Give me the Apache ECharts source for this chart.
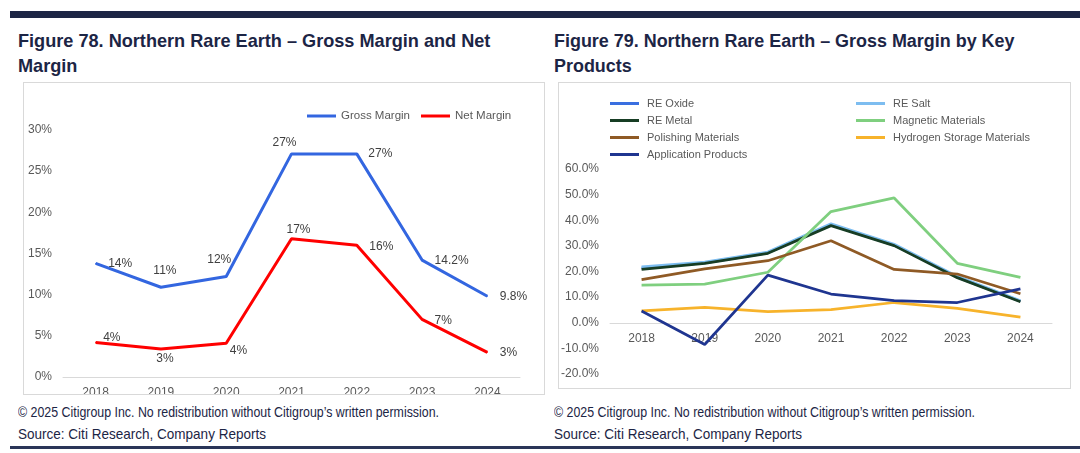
<!DOCTYPE html>
<html><head><meta charset="utf-8">
<script src="https://cdn.jsdelivr.net/npm/echarts@6/dist/echarts.min.js"></script>
<style>
html,body{margin:0;padding:0;background:#fff;width:1080px;height:453px;overflow:hidden;position:relative;font-family:'Liberation Sans',Arial,sans-serif;}
.bar{position:absolute;left:10px;width:1070px;background:#1c2545;}
.title{position:absolute;top:29px;font-weight:bold;font-size:18px;line-height:24.5px;color:#1c2545;white-space:nowrap}
.box{position:absolute;border:1px solid #d9d9d9;box-sizing:border-box;}
.chart{position:absolute;}
.foot{position:absolute;color:#1c2545;white-space:nowrap;line-height:16px;transform-origin:0 50%}
</style></head>
<body>
<div class="bar" style="top:11px;height:7px"></div>
<div class="title" style="left:18px"><span class="fit" data-w="473">Figure 78. Northern Rare Earth – Gross Margin and Net</span><br>Margin</div>
<div class="title" style="left:554px"><span class="fit" data-w="461">Figure 79. Northern Rare Earth – Gross Margin by Key</span><br>Products</div>
<div class="box" style="left:23px;top:82px;width:522px;height:313px"></div>
<div class="box" style="left:558px;top:82px;width:513px;height:307px"></div>
<div id="c1" class="chart" style="left:24px;top:83px;width:520px;height:311px"></div>
<div id="c2" class="chart" style="left:559px;top:83px;width:511px;height:305px"></div>
<div class="foot fitx" data-w="421" style="left:18px;top:404px;font-size:14px">© 2025 Citigroup Inc. No redistribution without Citigroup’s written permission.</div>
<div class="foot fitx" data-w="248" style="left:18px;top:426px;font-size:15px">Source: Citi Research, Company Reports</div>
<div class="foot fitx" data-w="421" style="left:554px;top:404px;font-size:14px">© 2025 Citigroup Inc. No redistribution without Citigroup’s written permission.</div>
<div class="foot fitx" data-w="248" style="left:554px;top:426px;font-size:15px">Source: Citi Research, Company Reports</div>
<div class="bar" style="top:446px;height:3px;background:#2a3558"></div>
<script>
// ---- Figure 78 data ----
const years = ['2018','2019','2020','2021','2022','2023','2024'];
const grossMargin = [13.8, 10.9, 12.2, 27.1, 27.1, 14.2, 9.8];
const netMargin = [4.2, 3.4, 4.1, 16.8, 16.0, 7.0, 3.0];
const grossLabels = ['14%','11%','12%','27%','27%','14.2%','9.8%'];
const netLabels = ['4%','3%','4%','17%','16%','7%','3%'];
const leftAxis = {min: 0, max: 30, interval: 5};

// ---- Figure 79 data ----
const reOxide = [21.3, 23.4, 27.3, 38.2, 30.3, 17.8, 8.4];
const reSalt = [21.8, 23.7, 27.6, 38.6, 30.6, 18.1, 8.6];
const reMetal = [20.8, 23.2, 27.1, 37.9, 30.1, 17.6, 8.2];
const magnetic = [14.7, 15.1, 19.7, 43.4, 48.7, 23.2, 17.7];
const polishing = [16.8, 21.0, 24.2, 32.0, 20.8, 19.0, 11.3];
const hydrogen = [4.6, 6.0, 4.3, 5.1, 7.9, 5.6, 2.2];
const application = [4.6, -8.5, 18.6, 11.2, 8.6, 7.9, 13.2];
const rightAxis = {min: -20, max: 60, interval: 10};

// fit text widths (layout only)
document.querySelectorAll('.fitx').forEach(el=>{
  const w = el.getBoundingClientRect().width;
  el.style.transform = 'scaleX(' + (+el.dataset.w / w) + ')';
});
document.querySelectorAll('.fit').forEach(el=>{
  const w = el.getBoundingClientRect().width;
  const fs = parseFloat(getComputedStyle(el).fontSize);
  el.parentNode.style.fontSize = (fs * (+el.dataset.w) / w) + 'px';
});

// label placement (style only)
const grossPlace = [
  {position:'right', distance:12, offset:[0,0]},
  {position:'top', distance:5, offset:[4,-5]},
  {position:'top', distance:5, offset:[-7,-5]},
  {position:'top', distance:5, offset:[-7,0]},
  {position:'right', distance:11, offset:[0,0]},
  {position:'right', distance:12, offset:[0,1]},
  {position:'right', distance:12, offset:[0,0]}
];
const netPlace = [
  {position:'right', distance:7, offset:[0,-5]},
  {position:'bottom', distance:5, offset:[4,-2]},
  {position:'right', distance:3, offset:[0,7]},
  {position:'top', distance:5, offset:[7,3]},
  {position:'right', distance:12, offset:[0,1]},
  {position:'right', distance:12, offset:[0,1]},
  {position:'right', distance:12, offset:[0,0]}
];
function withLabels(vals, labels, place){
  return vals.map((v,i)=>({value:v, label:{show:true, formatter:labels[i], position:place[i].position, distance:place[i].distance, offset:place[i].offset}}));
}
const FONT = "'Liberation Sans', Arial, sans-serif";
const c1 = echarts.init(document.getElementById('c1'), null, {renderer:'canvas'});
c1.setOption({
  animation:false,
  textStyle:{fontFamily:FONT},
  legend:{
    left:278, top:22, itemWidth:29, itemHeight:3, itemGap:11, icon:'rect',
    textStyle:{fontSize:11.5, color:'#595959', fontFamily:FONT},
    data:['Gross Margin','Net Margin']
  },
  grid:{left:39, right:24, top:47, bottom:17, outerBoundsMode:'none', containLabel:false},
  xAxis:{type:'category', data:years, boundaryGap:true,
    axisLine:{lineStyle:{color:'#d9d9d9'}}, axisTick:{show:false},
    axisLabel:{color:'#595959', fontSize:12, margin:10}},
  yAxis:{type:'value', min:leftAxis.min, max:leftAxis.max, interval:leftAxis.interval,
    splitLine:{show:false}, axisLine:{show:false}, axisTick:{show:false},
    axisLabel:{color:'#595959', fontSize:12, margin:11, formatter:'{value}%'}},
  series:[
    {name:'Gross Margin', type:'line', data:withLabels(grossMargin, grossLabels, grossPlace),
     symbol:'circle', symbolSize:1, lineStyle:{width:3, color:'#3366e0'}, itemStyle:{color:'#3366e0'},
     label:{color:'#404040', fontSize:12}},
    {name:'Net Margin', type:'line', data:withLabels(netMargin, netLabels, netPlace),
     symbol:'circle', symbolSize:1, lineStyle:{width:3, color:'#ff0000'}, itemStyle:{color:'#ff0000'},
     label:{color:'#404040', fontSize:12}}
  ]
});

const names = ['RE Oxide','RE Salt','RE Metal','Magnetic Materials','Polishing Materials','Hydrogen Storage Materials','Application Products'];
const seriesData = [reOxide, reSalt, reMetal, magnetic, polishing, hydrogen, application];
const colors = ['#3a6fe0','#7dbdf0','#173d24','#7fcf7f','#8f5a25','#f7b32b','#1f3590'];
const legendCommon = {orient:'vertical', itemWidth:29, itemHeight:3, itemGap:4, icon:'rect',
  textStyle:{fontSize:11, color:'#595959', fontFamily:FONT, lineHeight:13, padding:[0,0,0,3]}};
const g2 = {left:51, right:18, top:86, bottom:14};
const g2H = 305 - g2.top - g2.bottom;
const zeroOffset = -g2H * (0 - rightAxis.min) / (rightAxis.max - rightAxis.min);
const c2 = echarts.init(document.getElementById('c2'), null, {renderer:'canvas'});
c2.setOption({
  animation:false,
  color:colors,
  textStyle:{fontFamily:FONT},
  legend:[
    Object.assign({left:46, top:9, data:[names[0],names[2],names[4],names[6]]}, legendCommon),
    Object.assign({left:292, top:9, data:[names[1],names[3],names[5]]}, legendCommon)
  ],
  grid:Object.assign({outerBoundsMode:'none', containLabel:false}, g2),
  xAxis:{type:'category', data:years, boundaryGap:true, position:'bottom', offset:zeroOffset,
    axisLine:{onZero:false, lineStyle:{color:'#d9d9d9'}}, axisTick:{show:false},
    axisLabel:{color:'#595959', fontSize:12, margin:10}},
  yAxis:{type:'value', min:rightAxis.min, max:rightAxis.max, interval:rightAxis.interval,
    splitLine:{show:false}, axisLine:{show:false}, axisTick:{show:false},
    axisLabel:{color:'#595959', fontSize:12, margin:11, formatter:v=>v.toFixed(1)+'%'}},
  series:names.map((n,i)=>({name:n, type:'line', data:seriesData[i], symbol:'none',
    lineStyle:{width:2.75, color:colors[i]}, itemStyle:{color:colors[i]}}))
});
</script>
</body></html>
